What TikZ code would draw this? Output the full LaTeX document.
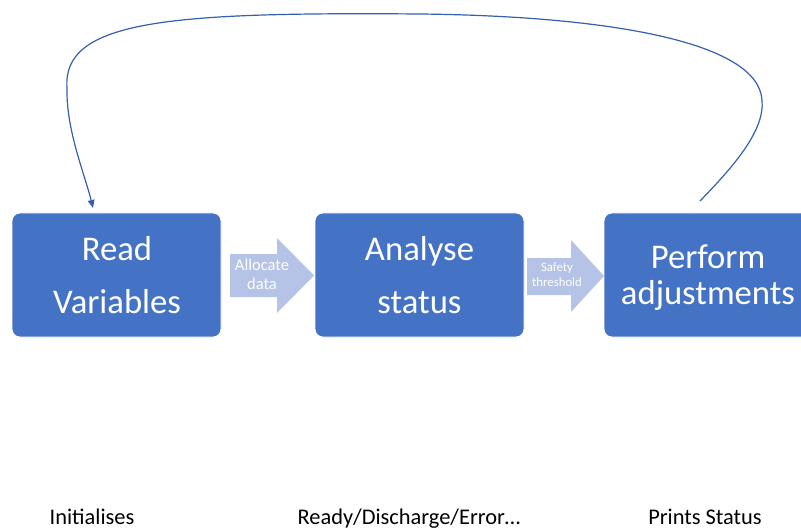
\documentclass[tikz,border=0pt]{standalone}
\usepackage{fontspec}
\setmainfont{Carlito}
\usetikzlibrary{arrows.meta}
\definecolor{boxblue}{HTML}{4472C4}
\definecolor{arrowblue}{HTML}{B4C3E6}
\definecolor{loopblue}{HTML}{3560AE}
\tikzset{
  stage/.style={fill=boxblue, draw=white, line width=0.6pt, rounded corners=6pt},
  stagetext/.style={text=white, anchor=base, inner sep=0pt, font=\fontsize{26}{30}\selectfont},
  flowarrow/.style={fill=arrowblue, draw=none},
  flowtext/.style={text=white, anchor=base, inner sep=0pt},
  note/.style={text=black, anchor=base, inner sep=0pt, font=\fontsize{16.8}{20}\selectfont},
  loop/.style={draw=loopblue, line width=0.9pt, -{Triangle[length=6pt,width=5pt]}}
}
\begin{document}
\begin{tikzpicture}[x=0.75pt,y=-0.75pt]
\clip (0,0) rectangle (801,528);
\fill[white] (0,0) rectangle (801,528);

% stage boxes
\path[stage] (12,213) rectangle (221,337);
\path[stage] (315,213) rectangle (524,337);
\path[stage] (604,213) rectangle (813,337);
\coordinate (b3) at (700,201);

\node[stagetext] (t1a) at (117,260) {Read};
\node[stagetext] (t1b) at (117,313) {Variables};
\node[stagetext] (t2a) at (419.5,260) {Analyse};
\node[stagetext] (t2b) at (419.5,313) {status};
\node[stagetext] (t3a) at (708,268) {Perform};
\node[stagetext] (t3b) at (708,305) {adjustments};

% block arrows between the stages
\path[flowarrow] (230,254) -- (277,254) -- (277,238) -- (314,275.5)
  -- (277,313) -- (277,297) -- (230,297) -- cycle;
\node[flowtext, font=\fontsize{12.4}{14}\selectfont] (a1a) at (262,270.5) {Allocate};
\node[flowtext, font=\fontsize{12.4}{14}\selectfont] (a1b) at (262,289.5) {data};

\path[flowarrow] (527,258) -- (571,258) -- (571,240) -- (604,276)
  -- (571,312) -- (571,295) -- (527,295) -- cycle;
\node[flowtext, font=\fontsize{9.6}{11}\selectfont] (a2a) at (557,272) {Safety};
\node[flowtext, font=\fontsize{9.6}{11}\selectfont] (a2b) at (557,286.5) {threshold};

% feedback loop back to the first stage
\coordinate (e1) at (93,208);
\draw[loop] (b3) .. controls (735,165) and (765,130) .. (762,100)
  .. controls (758,40) and (600,16) .. (420,14)
  .. controls (170,12) and (62,20) .. (67,88)
  .. controls (66,130) and (85,175) .. (e1);

% captions
\node[note] (n1) at (92,524) {Initialises};
\node[note] (n2) at (409,524) {Ready/Discharge/Error…};
\node[note] (n3) at (705,524) {Prints Status};
\end{tikzpicture}
\end{document}
